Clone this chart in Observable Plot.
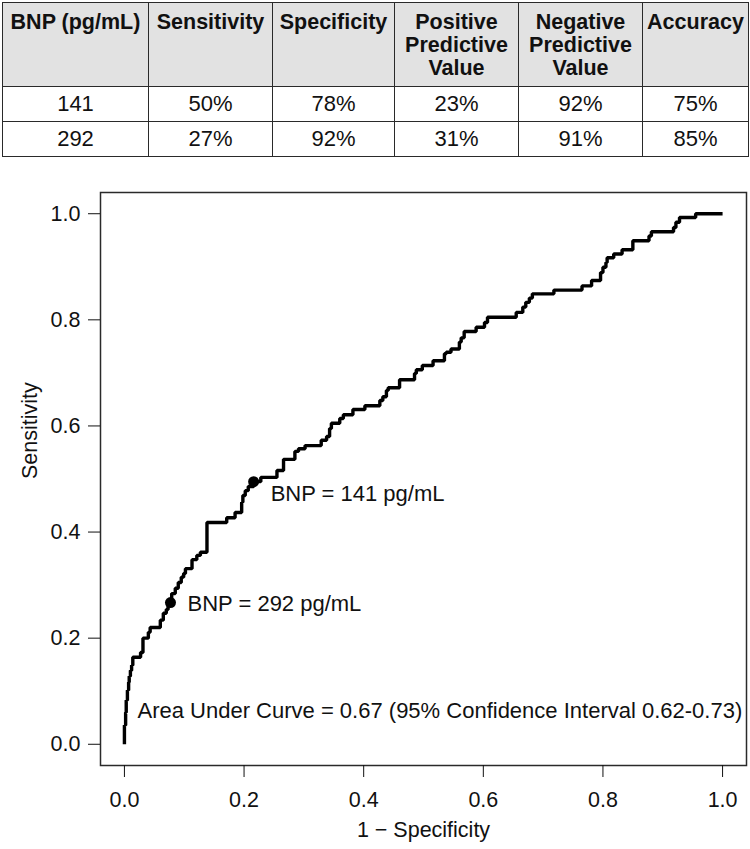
<!DOCTYPE html>
<html>
<head>
<meta charset="utf-8">
<script src="https://cdn.jsdelivr.net/npm/d3@7"></script>
<script src="https://cdn.jsdelivr.net/npm/@observablehq/plot@0.6"></script>
<style>
  html, body { margin: 0; padding: 0; background: #fff; }
  body { width: 750px; height: 849px; position: relative; overflow: hidden; font-family: "Liberation Sans", Arial, sans-serif; }
  #tbl { position: absolute; left: 2px; top: 2px; border-collapse: collapse; table-layout: fixed; }
  #tbl td, #tbl th { border: 1.5px solid #2a2a2a; text-align: center; padding: 0; color: #111; }
  #tbl th { background: #e2e2e2; font-weight: bold; font-size: 21.5px; line-height: 23px; vertical-align: top; padding-top: 8px; height: 75px; }
  #tbl td { font-size: 22px; height: 34px; }
  #chart { position: absolute; left: 0; top: 160px; }
</style>
</head>
<body>
<table id="tbl"></table>
<div id="chart"></div>
<script>
// ---- Table data ----
const tableHeaders = ["BNP (pg/mL)", "Sensitivity", "Specificity", "Positive<br>Predictive<br>Value", "Negative<br>Predictive<br>Value", "Accuracy"];
const colWidths = [146, 124, 122, 124, 124, 106];
const bnpCutoffs = ["141", "292"];
const sensitivityVals = ["50%", "27%"];
const specificityVals = ["78%", "92%"];
const ppvVals = ["23%", "31%"];
const npvVals = ["92%", "91%"];
const accuracyVals = ["75%", "85%"];

// ---- ROC curve data (1 - specificity, sensitivity) ----
const fpr = [0, 0, 0.002, 0.003, 0.005, 0.007, 0.008, 0.010, 0.012, 0.014, 0.027, 0.031, 0.040, 0.043, 0.060, 0.065, 0.070, 0.073, 0.077,
  0.079, 0.085, 0.090, 0.095, 0.099, 0.102, 0.113, 0.121, 0.127, 0.138, 0.171, 0.185, 0.196, 0.198, 0.202, 0.207, 0.216,
  0.228, 0.255, 0.266, 0.285, 0.291, 0.302, 0.329, 0.338, 0.343, 0.346, 0.360, 0.366, 0.382, 0.402, 0.427, 0.432, 0.438, 0.441,
  0.460, 0.485, 0.488, 0.498, 0.516, 0.535, 0.538, 0.546, 0.560, 0.563, 0.568, 0.588, 0.602, 0.607, 0.655, 0.666, 0.671, 0.677,
  0.682, 0.718, 0.765, 0.781, 0.796, 0.800, 0.805, 0.807, 0.818, 0.832, 0.850, 0.877, 0.881, 0.918, 0.922, 0.928, 0.955, 1.0];
const tpr = [0, 0.036, 0.060, 0.083, 0.102, 0.117, 0.128, 0.139, 0.149, 0.164, 0.173, 0.200, 0.211, 0.220, 0.234, 0.247, 0.254, 0.262, 0.267,
  0.284, 0.294, 0.305, 0.315, 0.322, 0.331, 0.348, 0.356, 0.362, 0.418, 0.427, 0.437, 0.456, 0.469, 0.478, 0.486, 0.495,
  0.503, 0.516, 0.537, 0.552, 0.557, 0.563, 0.573, 0.580, 0.595, 0.605, 0.614, 0.621, 0.631, 0.638, 0.648, 0.655, 0.667, 0.672,
  0.687, 0.699, 0.706, 0.714, 0.723, 0.736, 0.739, 0.745, 0.758, 0.766, 0.778, 0.786, 0.795, 0.805, 0.814, 0.824, 0.833, 0.841,
  0.849, 0.856, 0.864, 0.874, 0.889, 0.899, 0.908, 0.917, 0.924, 0.932, 0.949, 0.958, 0.966, 0.974, 0.984, 0.993, 1.0, 1.0];

// cut-off points marked on the curve
const cutLabels = ["BNP = 141 pg/mL", "BNP = 292 pg/mL"];
const cutFpr = [0.216, 0.077];
const cutTpr = [0.495, 0.267];
const aucText = "Area Under Curve = 0.67 (95% Confidence Interval 0.62-0.73)";

const axisTicks = [0, 0.2, 0.4, 0.6, 0.8, 1.0];
const xTitle = "1 \u2212 Specificity";
const yTitle = "Sensitivity";

// ---- build table ----
const tbl = document.getElementById("tbl");
let html = "<colgroup>" + colWidths.map(w => `<col style="width:${w}px">`).join("") + "</colgroup>";
html += "<tr>" + tableHeaders.map(h => `<th>${h}</th>`).join("") + "</tr>";
bnpCutoffs.forEach((b, i) => {
  html += "<tr>" + [b, sensitivityVals[i], specificityVals[i], ppvVals[i], npvVals[i], accuracyVals[i]]
    .map(v => `<td>${v}</td>`).join("") + "</tr>";
});
tbl.innerHTML = html;

// ---- chart ----
const roc = fpr.map((f, i) => ({fpr: f, tpr: tpr[i]}));
const cuts = cutLabels.map((l, i) => ({label: l, fpr: cutFpr[i], tpr: cutTpr[i]}));
const fmt = d3.format(".1f");
const font = "Liberation Sans, Arial, sans-serif";

const chart = Plot.plot({
  width: 750,
  height: 689,
  marginLeft: 100,
  marginRight: 4,
  marginTop: 32,
  marginBottom: 84,
  style: {fontFamily: font, fontSize: "22px", color: "#111", background: "white"},
  x: {domain: [-0.04, 1.04]},
  y: {domain: [-0.04, 1.04]},
  marks: [
    Plot.frame({stroke: "#2a2a2a", strokeWidth: 1.5}),
    Plot.axisX({ticks: axisTicks, tickFormat: fmt, tickSize: 12, tickPadding: 14, fontSize: 21.5, label: null, stroke: "#111"}),
    Plot.axisY({ticks: axisTicks, tickFormat: fmt, tickSize: 12, tickPadding: 8, fontSize: 21.5, label: null, stroke: "#111"}),
    Plot.text([xTitle], {frameAnchor: "bottom", dy: 71, fontSize: 21.5, fill: "#111"}),
    Plot.text([yTitle], {frameAnchor: "left", dx: -70, rotate: -90, fontSize: 21.5, fill: "#111"}),
    Plot.line(roc, {x: "fpr", y: "tpr", curve: "step-after", stroke: "black", strokeWidth: 3.4, strokeLinejoin: "miter", strokeLinecap: "butt"}),
    Plot.dot(cuts, {x: "fpr", y: "tpr", r: 5.5, fill: "black", stroke: "none"}),
    Plot.text(cuts.slice(0, 1), {x: "fpr", y: "tpr", text: "label", textAnchor: "start", dx: 17, dy: 12, fontSize: 22, fill: "#111"}),
    Plot.text(cuts.slice(1, 2), {x: "fpr", y: "tpr", text: "label", textAnchor: "start", dx: 17, dy: 1, fontSize: 22, fill: "#111"}),
    Plot.text([aucText], {frameAnchor: "bottom-left", textAnchor: "start", dx: 37, dy: -48, fontSize: 22, fill: "#111"})
  ]
});
document.getElementById("chart").appendChild(chart);
</script>
</body>
</html>
